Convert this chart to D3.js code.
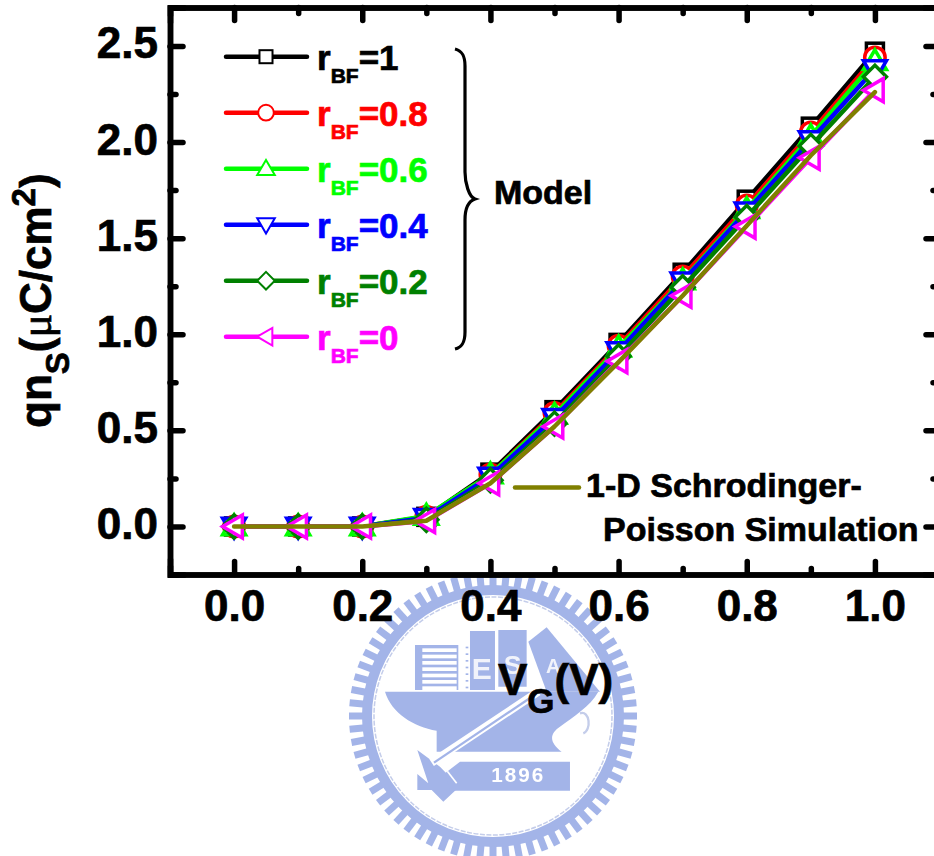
<!DOCTYPE html>
<html>
<head>
<meta charset="utf-8">
<script src="https://cdn.jsdelivr.net/npm/d3@7"></script>
<style>
  html, body { margin: 0; padding: 0; background: #fff; }
  text { font-family: "Liberation Sans", Arial, sans-serif; font-weight: bold; }
</style>
</head>
<body>
<div id="chart"></div>
<script>
const voltages = [0, 0.1, 0.2, 0.3, 0.4, 0.5, 0.6, 0.7, 0.8, 0.9, 1.0];
const rBF1  = [0, 0, 0, 0.05, 0.28, 0.605, 0.955, 1.32, 1.70, 2.08, 2.47];
const rBF08 = [0, 0, 0, 0.05, 0.27, 0.59, 0.94, 1.30, 1.67, 2.05, 2.44];
const rBF06 = [0, 0, 0, 0.055, 0.27, 0.58, 0.93, 1.28, 1.65, 2.03, 2.42];
const rBF04 = [0, 0, 0, 0.045, 0.26, 0.565, 0.913, 1.275, 1.64, 2.01, 2.38];
const rBF02 = [0, 0, 0, 0.035, 0.24, 0.535, 0.885, 1.245, 1.61, 1.98, 2.34];
const rBF0  = [0, 0, 0, 0.028, 0.225, 0.52, 0.86, 1.20, 1.56, 1.918, 2.27];
const sim   = [0, 0, 0, 0.03, 0.225, 0.52, 0.855, 1.20, 1.565, 1.93, 2.26];
const xTicks = [0, 0.2, 0.4, 0.6, 0.8, 1.0];
const xMinor = [0.1, 0.3, 0.5, 0.7, 0.9];
const yTicks = [0, 0.5, 1.0, 1.5, 2.0, 2.5];
const yMinor = [0.25, 0.75, 1.25, 1.75, 2.25];

const series = [
  { label: "1",   values: rBF1,  color: "#000000", symbol: "square" },
  { label: "0.8", values: rBF08, color: "#ff0000", symbol: "circle" },
  { label: "0.6", values: rBF06, color: "#00ff00", symbol: "up" },
  { label: "0.4", values: rBF04, color: "#0000ff", symbol: "down" },
  { label: "0.2", values: rBF02, color: "#008000", symbol: "diamond" },
  { label: "0",   values: rBF0,  color: "#ff00ff", symbol: "left" }
];

const width = 934, height = 856;
const svg = d3.select("#chart").append("svg")
  .attr("width", width)
  .attr("height", height)
  .style("display", "block");

svg.append("defs").append("filter").attr("id", "soft")
  .append("feGaussianBlur").attr("stdDeviation", 0.7);

const x = d3.scaleLinear().domain([-0.1, 1.1]).range([170, 939]);
const y = d3.scaleLinear().domain([-0.25, 2.7]).range([574.5, 7.5]);

// seal in the background, inner shapes are in a 3x space
function drawSeal() {
  const blue = "#a3b4e8";
  const seal = svg.append("g").attr("filter", "url(#soft)");
  const cx = 493, cy = 716;
  for (let i = 0; i < 68; i++) {
    const a = i * 360 / 68;
    seal.append("rect")
      .attr("x", cx - 3.5).attr("y", cy - 144)
      .attr("width", 7).attr("height", 16)
      .attr("fill", blue)
      .attr("transform", `rotate(${a},${cx},${cy})`);
  }
  seal.append("circle").attr("cx", cx).attr("cy", cy).attr("r", 126).attr("fill", "none")
    .attr("stroke", blue).attr("stroke-width", 10);
  seal.append("circle").attr("cx", cx).attr("cy", cy).attr("r", 119).attr("fill", "none")
    .attr("stroke", "#c4cdea").attr("stroke-width", 1.5).attr("stroke-dasharray", "5 1.5");

  const g = seal.append("g").attr("transform", "translate(360,570) scale(0.3333)");
  const shapes = [
    "M165,225H295V360H165Z",
    "M330,183H405V360H330Z",
    "M415,180H500V350H415Z",
    "M505,215L560,172L720,365L560,365Z",
    "M75,365H715C690,410 640,440 600,470C570,490 565,515 605,545H330L230,545V482C160,470 95,430 75,365Z",
    "M172,540L240,590L298,650L250,695L215,660H172V612L205,640Z",
    "M300,575H630V662H270L255,610Z"
  ];
  shapes.forEach(d => g.append("path").attr("d", d).attr("fill", blue));
  // white stripes on the left building
  d3.range(235, 355, 19).forEach(s => {
    g.append("rect").attr("x", 187).attr("y", s).attr("width", 103).attr("height", 11).attr("fill", "#fff");
  });
  d3.range(230, 355, 20).forEach(s => {
    g.append("rect").attr("x", 317).attr("y", s).attr("width", 8).attr("height", 5).attr("fill", blue);
  });
  g.append("path").attr("d", "M215,578L535,365").attr("stroke", "#fff").attr("stroke-width", 24).attr("fill", "none");
  g.append("path").attr("d", "M222,578L528,372").attr("stroke", blue).attr("stroke-width", 7).attr("fill", "none");
  g.append("path").attr("d", "M262,604L290,640").attr("stroke", "#fff").attr("stroke-width", 5);
  g.append("path").attr("d", "M660,430C690,420 695,480 670,490").attr("stroke", "#c4cdea").attr("stroke-width", 7).attr("fill", "none");
  [["E", 365, 328, 90], ["S", 458, 312, 80], ["A", 580, 310, 60]].forEach(t => {
    g.append("text").attr("class", "seal").attr("x", t[1]).attr("y", t[2]).attr("text-anchor", "middle")
      .attr("font-size", t[3]).attr("fill", "#fff").attr("opacity", 0.85).text(t[0]);
  });
  g.append("text").attr("class", "seal").attr("x", 475).attr("y", 637).attr("text-anchor", "middle")
    .attr("font-size", 62).attr("letter-spacing", 6).attr("fill", "#fff").text("1896");
}
drawSeal();

function drawSymbol(g, kind, cx, cy, s, color, sw) {
  // s is the half size of the symbol
  let el;
  if (kind === "square") {
    el = g.append("rect").attr("x", cx - s * 0.74).attr("y", cy - s * 0.74)
      .attr("width", s * 1.48).attr("height", s * 1.48);
  } else if (kind === "circle") {
    el = g.append("circle").attr("cx", cx).attr("cy", cy).attr("r", s * 0.89);
  } else {
    const pts = {
      up: [[0, -s], [s, s * 0.72], [-s, s * 0.72]],
      down: [[0, s], [s, -s * 0.72], [-s, -s * 0.72]],
      left: [[-s, 0], [s * 0.72, -s], [s * 0.72, s]],
      diamond: [[0, -s], [s, 0], [0, s], [-s, 0]]
    }[kind];
    el = g.append("polygon").attr("points", pts.map(p => [cx + p[0], cy + p[1]].join(",")).join(" "));
  }
  el.attr("fill", "#fff").attr("stroke", color).attr("stroke-width", sw).attr("stroke-linejoin", "miter");
}

const line = d3.line().x((d, i) => x(voltages[i])).y(d => y(d));

series.forEach(s => {
  const g = svg.append("g");
  g.append("path").attr("d", line(s.values)).attr("fill", "none")
    .attr("stroke", s.color).attr("stroke-width", 4.5).attr("stroke-linejoin", "round");
  s.values.forEach((v, i) => drawSymbol(g, s.symbol, x(voltages[i]), y(v), 11.5, s.color, 3.5));
});
svg.append("path").attr("d", line(sim)).attr("fill", "none")
  .attr("stroke", "#808000").attr("stroke-width", 4.5)
  .attr("stroke-linecap", "round").attr("stroke-linejoin", "round");

// frame and ticks
function styleAxis(g) {
  g.selectAll("path.domain").attr("stroke", "#000").attr("stroke-width", 5.5).attr("stroke-linecap", "square");
  g.selectAll("line").attr("stroke", "#000").attr("stroke-width", 5.5).attr("stroke-linecap", "round");
  g.selectAll("text").attr("font-size", 44).attr("font-family", '"Liberation Sans", Arial, sans-serif')
    .attr("font-weight", "bold").attr("fill", "#000");
}
const fmt = d3.format(".1f");
const mainLen = 13, minorLen = 6;

svg.append("g").attr("transform", `translate(0,${y.range()[0]})`)
  .call(d3.axisBottom(x).tickValues(xMinor).tickSize(-minorLen).tickFormat("")).call(styleAxis);
svg.append("g").attr("transform", `translate(0,${y.range()[0]})`)
  .call(d3.axisBottom(x).tickValues(xTicks).tickSize(-mainLen).tickPadding(15).tickFormat(fmt)).call(styleAxis);
svg.append("g").attr("transform", `translate(0,${y.range()[1]})`)
  .call(d3.axisTop(x).tickValues(xMinor).tickSize(-minorLen).tickFormat("")).call(styleAxis);
svg.append("g").attr("transform", `translate(0,${y.range()[1]})`)
  .call(d3.axisTop(x).tickValues(xTicks).tickSize(-mainLen).tickFormat("")).call(styleAxis);
svg.append("g").attr("transform", `translate(${x.range()[0]},0)`)
  .call(d3.axisLeft(y).tickValues(yMinor).tickSize(-minorLen).tickFormat("")).call(styleAxis);
svg.append("g").attr("transform", `translate(${x.range()[0]},0)`)
  .call(d3.axisLeft(y).tickValues(yTicks).tickSize(-mainLen).tickPadding(12).tickFormat(fmt))
  .call(styleAxis)
  .call(g => g.selectAll("text").attr("dy", 12));
svg.append("g").attr("transform", `translate(${x.range()[1]},0)`)
  .call(d3.axisRight(y).tickValues(yMinor).tickSize(-minorLen).tickFormat("")).call(styleAxis);
svg.append("g").attr("transform", `translate(${x.range()[1]},0)`)
  .call(d3.axisRight(y).tickValues(yTicks).tickSize(-mainLen).tickFormat("")).call(styleAxis);

// legend
series.forEach((s, i) => {
  const ly = 56.7 + i * 56;
  const g = svg.append("g");
  g.append("line").attr("x1", 226).attr("x2", 307).attr("y1", ly).attr("y2", ly)
    .attr("stroke", s.color).attr("stroke-width", 4.5).attr("stroke-linecap", "round");
  drawSymbol(g, s.symbol, 266, ly, 8.8, s.color, 2);
  const t = g.append("text").attr("x", 317).attr("y", ly + 13).attr("fill", s.color).attr("font-size", 35);
  t.append("tspan").text("r");
  t.append("tspan").attr("dy", 13).attr("font-size", 21).text("BF");
  t.append("tspan").attr("dy", -13).text("=" + s.label);
});

// brace next to the legend
svg.append("path")
  .attr("d", "M455,49C463,51 465,57 465,66V172C465,183 469,197 475,199C469,201 465,207 465,220V332C465,341 463,347 455,349")
  .attr("fill", "none").attr("stroke", "#000").attr("stroke-width", 3.2);
svg.append("text").attr("x", 494).attr("y", 204).attr("font-size", 34).attr("fill", "#000").text("Model");

// simulation legend
svg.append("line").attr("x1", 515).attr("x2", 579).attr("y1", 487.5).attr("y2", 487.5)
  .attr("stroke", "#808000").attr("stroke-width", 4.5).attr("stroke-linecap", "round");
svg.append("text").attr("x", 586).attr("y", 497).attr("font-size", 34).attr("fill", "#000").text("1-D Schrodinger-");
svg.append("text").attr("x", 603).attr("y", 541).attr("font-size", 34).attr("fill", "#000").text("Poisson Simulation");

// axis titles
const xt = svg.append("text").attr("x", 498).attr("y", 695).attr("font-size", 44).attr("fill", "#000");
xt.append("tspan").text("V");
xt.append("tspan").attr("dy", 18).attr("font-size", 35).text("G");
xt.append("tspan").attr("dy", -18).text("(V)");

const yt = svg.append("text").attr("transform", "translate(51,428) rotate(-90)").attr("font-size", 44).attr("fill", "#000");
yt.append("tspan").text("qn");
yt.append("tspan").attr("dy", 18).attr("font-size", 33).text("S");
yt.append("tspan").attr("dy", -18).text("(");
yt.append("tspan").attr("font-family", '"Liberation Serif", serif').attr("font-weight", "normal").text("μ");
yt.append("tspan").text("C/cm");
yt.append("tspan").attr("dy", -16).attr("font-size", 33).text("2");
yt.append("tspan").attr("dy", 16).text(")");

// the original lettering is a bit heavier than the plain bold face
svg.selectAll("text:not(.seal)").each(function () {
  const el = d3.select(this);
  el.attr("stroke", el.attr("fill")).attr("stroke-width", 0.7);
});
</script>
</body>
</html>
